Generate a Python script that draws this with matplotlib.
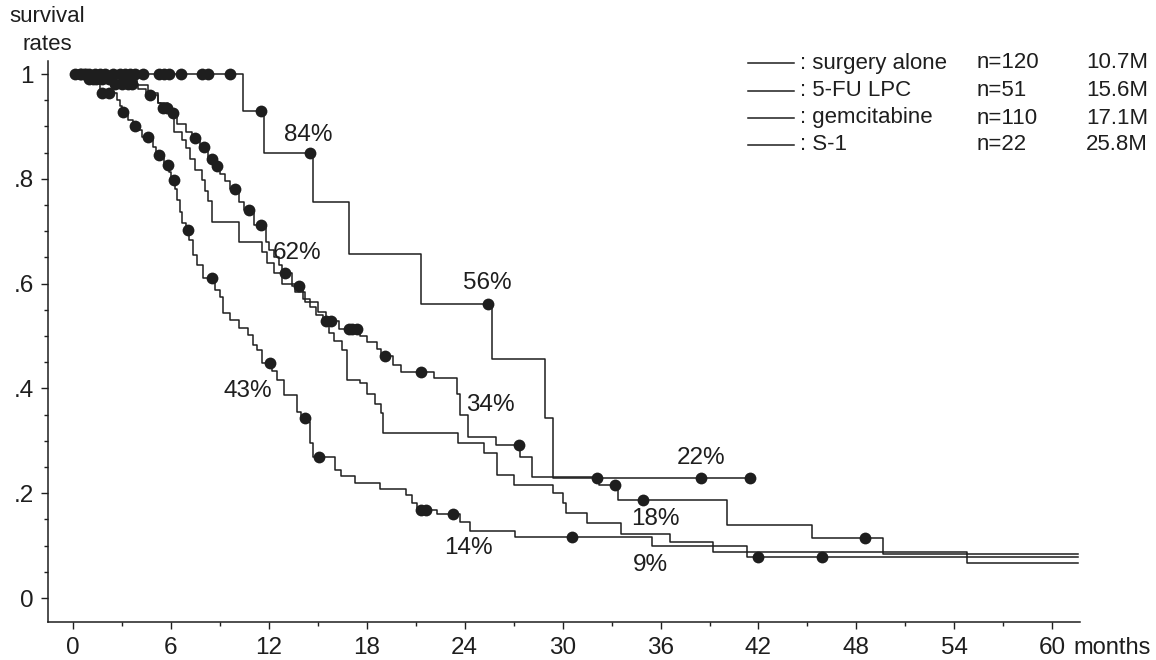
import numpy as np
import matplotlib.pyplot as plt
from matplotlib.ticker import MultipleLocator

plt.rcParams['font.family'] = ['Liberation Sans', 'DejaVu Sans']

# ---- data (months, survival) ----
# S-1 (n=22)
s1_t = [0, 10.4, 11.7, 14.7, 16.9, 21.3, 25.7, 28.9, 29.4]
s1_s = [1.0, 0.930, 0.849, 0.755, 0.656, 0.561, 0.456, 0.344, 0.229]
s1_end = 41.5
s1_cens = [0.1, 0.7, 1.0, 1.35, 1.65, 1.95, 2.45, 2.9, 3.2, 3.5, 3.8, 4.3,
           5.3, 5.6, 5.9, 6.6, 7.9, 8.3, 9.6, 11.5, 14.5, 25.4, 32.1, 38.5, 41.5]

# gemcitabine (n=110)
gem_t = [0, 0.9, 2.5, 4.0, 4.5, 5.2, 5.4, 5.9, 6.4, 6.9, 7.3, 7.8, 8.3, 8.7,
         9.0, 9.3, 9.6, 10.2, 10.5, 11.1, 11.8, 12.0, 12.3, 12.6, 12.8, 13.4,
         14.1, 14.5, 14.9, 15.3, 16.3, 17.6, 18.0, 18.6, 18.9, 19.6, 20.1, 22.1,
         23.5, 23.7, 24.2, 25.9, 27.4, 28.1, 32.2, 33.4, 40.1, 45.3, 49.6]
gem_s = [1.0, 0.990, 0.982, 0.972, 0.960, 0.945, 0.935, 0.925, 0.905, 0.890,
         0.878, 0.860, 0.838, 0.825, 0.810, 0.795, 0.780, 0.755, 0.740, 0.712,
         0.680, 0.665, 0.650, 0.635, 0.620, 0.595, 0.570, 0.555, 0.540, 0.528,
         0.513, 0.500, 0.488, 0.475, 0.462, 0.445, 0.431, 0.420, 0.390, 0.350,
         0.307, 0.292, 0.270, 0.231, 0.216, 0.187, 0.139, 0.115, 0.084]
gem_end = 61.6
gem_cens = [0.5, 1.0, 1.4, 1.8, 2.2, 2.6, 3.0, 3.4, 3.6, 4.7, 5.5, 5.75, 6.1,
            7.5, 8.0, 8.5, 8.8, 9.9, 10.8, 11.5, 13.0, 13.85, 15.5, 15.8,
            16.9, 17.1, 17.4, 19.1, 21.3, 27.3, 33.2, 34.9, 48.5]

# 5-FU LPC (n=51)
fu_t = [0, 3.9, 4.6, 5.2, 5.8, 6.2, 6.7, 6.9, 7.2, 7.5, 7.9, 8.1, 8.3, 8.5,
        10.2, 11.6, 11.9, 12.3, 12.8, 13.6, 14.2, 15.0, 15.5, 15.7, 16.0, 16.5,
        16.8, 17.6, 18.0, 18.5, 18.9, 19.0, 23.6, 25.2, 26.0, 27.0, 29.4, 30.0,
        30.2, 31.5, 33.6, 36.6, 39.2, 54.8]
fu_s = [1.0, 0.980, 0.963, 0.945, 0.930, 0.890, 0.875, 0.858, 0.838, 0.817,
        0.797, 0.777, 0.757, 0.718, 0.680, 0.660, 0.640, 0.620, 0.600, 0.585,
        0.565, 0.545, 0.525, 0.505, 0.490, 0.473, 0.416, 0.410, 0.390, 0.370,
        0.353, 0.315, 0.296, 0.277, 0.235, 0.216, 0.200, 0.181, 0.162, 0.143,
        0.122, 0.107, 0.088, 0.067]
fu_end = 61.6

# surgery alone (n=120)
sa_t = [0, 0.9, 1.3, 1.65, 2.7, 2.9, 3.0, 3.4, 3.7, 3.85, 4.2, 4.9, 5.1, 5.6,
        5.9, 6.0, 6.25, 6.4, 6.55, 6.7, 6.9, 7.1, 7.35, 7.6, 7.95, 8.7, 9.0,
        9.2, 9.6, 10.2, 10.7, 11.0, 11.3, 11.6, 12.2, 12.5, 12.9, 13.7, 14.0,
        14.25, 14.5, 14.7, 16.05, 16.4, 17.3, 18.8, 20.4, 20.8, 21.1, 22.3,
        23.7, 24.3, 27.1, 35.5, 41.3]
sa_s = [1.0, 0.990, 0.981, 0.964, 0.950, 0.940, 0.927, 0.912, 0.900, 0.893,
        0.880, 0.860, 0.845, 0.826, 0.813, 0.798, 0.780, 0.760, 0.737, 0.716,
        0.702, 0.683, 0.655, 0.636, 0.611, 0.588, 0.574, 0.544, 0.530, 0.515,
        0.502, 0.483, 0.473, 0.448, 0.433, 0.416, 0.387, 0.355, 0.344, 0.336,
        0.296, 0.269, 0.244, 0.233, 0.219, 0.208, 0.197, 0.181, 0.168, 0.160,
        0.145, 0.128, 0.116, 0.099, 0.078]
sa_end = 61.6
sa_cens = [0.4, 0.8, 1.2, 1.8, 2.2, 3.06, 3.8, 4.6, 5.3, 5.8, 6.2, 7.05, 8.5,
           12.1, 14.2, 15.1, 21.3, 21.6, 23.3, 30.6, 42.0, 45.9]

legend_names = ['surgery alone', '5-FU LPC', 'gemcitabine', 'S-1']
legend_n = ['n=120', 'n=51', 'n=110', 'n=22']
legend_mst = ['10.7M', '15.6M', '17.1M', '25.8M']

pct_text = ['84%', '62%', '56%', '43%', '34%', '22%', '18%', '14%', '9%']
pct_t = [14.4, 13.7, 25.4, 10.7, 25.6, 38.5, 35.7, 24.2, 35.4]
pct_s = [0.884, 0.658, 0.601, 0.395, 0.368, 0.267, 0.151, 0.095, 0.063]

ink = '#1e1e1e'

fig = plt.figure(figsize=(11.56, 6.6), dpi=100)
ax = fig.add_axes([48/1156, 38/660, 1032/1156, 561/660])


def km(t, s, end, cens=None):
    tt = list(t) + [end]
    ss = list(s) + [s[-1]]
    ax.step(tt, ss, where='post', color=ink, lw=1.1)
    if cens:
        idx = np.searchsorted(t, cens, side='right') - 1
        ax.plot(cens, np.array(s)[idx], 'o', color=ink, ms=8.5, mew=0,
                clip_on=False)


km(fu_t, fu_s, fu_end)
km(sa_t, sa_s, sa_end, sa_cens)
km(gem_t, gem_s, gem_end, gem_cens)
km(s1_t, s1_s, s1_end, s1_cens)

for txt, t, s in zip(pct_text, pct_t, pct_s):
    ax.text(t, s, txt, fontsize=17.5, color=ink, ha='center', va='center')

ax.set_xlim(-1.53, 61.7)
ax.set_ylim(-0.0458, 1.025)
ax.spines['top'].set_visible(False)
ax.spines['right'].set_visible(False)
for sp in ['left', 'bottom']:
    ax.spines[sp].set_color(ink)
    ax.spines[sp].set_linewidth(1.1)

ax.set_xticks(np.arange(0, 61, 6))
ax.xaxis.set_minor_locator(MultipleLocator(3))
ax.set_yticks([0, 0.2, 0.4, 0.6, 0.8, 1.0])
ax.set_yticklabels(['0', '.2', '.4', '.6', '.8', '1'])
ax.yaxis.set_minor_locator(MultipleLocator(0.05))
ax.tick_params(axis='both', which='major', labelsize=17.5, colors=ink,
               length=5, width=1.0)
ax.tick_params(axis='x', which='major', pad=6)
ax.tick_params(axis='y', which='major', pad=5)
ax.tick_params(axis='both', which='minor', length=3, width=1.0, colors=ink)

fig.text(1073/1156, 1 - 648/660, 'months', fontsize=17, color=ink,
         ha='left', va='center')
fig.text(47/1156, 1 - 17/660, 'survival', fontsize=16, color=ink,
         ha='center', va='center')
fig.text(47/1156, 1 - 45/660, 'rates', fontsize=16, color=ink,
         ha='center', va='center')

# legend drawn by hand
rows_y = [63, 91, 118, 145]
for i, yp in enumerate(rows_y):
    fy = 1 - yp / 660
    ax.plot([748/1156, 794/1156], [fy, fy], color=ink, lw=1.1,
            transform=fig.transFigure, clip_on=False)
    fig.text(800/1156, fy, ': ' + legend_names[i], fontsize=16, color=ink,
             ha='left', va='center')
    fig.text(977/1156, fy, legend_n[i], fontsize=16, color=ink,
             ha='left', va='center')
    fig.text(1148/1156, fy, legend_mst[i], fontsize=16, color=ink,
             ha='right', va='center')

fig.savefig('out.png', dpi=100, facecolor='white')
